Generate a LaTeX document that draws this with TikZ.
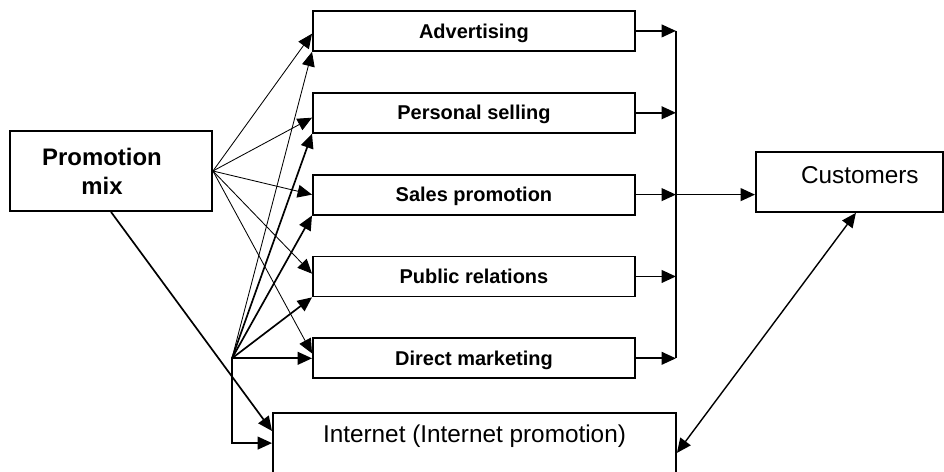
\documentclass[tikz,border=0pt]{standalone}
\usepackage{fontspec}
\setmainfont{Liberation Sans}
\usetikzlibrary{arrows.meta,positioning}

\begin{document}
\begin{tikzpicture}[
	x=0.025cm, y=-0.025cm,
	box/.style  = {draw, line width=1.3pt, rectangle, inner sep=0pt},
	tool/.style = {box, minimum width=8.05cm, minimum height=1cm, text height=10.2pt, text depth=0pt, font=\fontsize{14.2}{17}\selectfont\bfseries},
	big/.style  = {font=\fontsize{17.3}{20.5}\selectfont},
	feed/.style = {->, line width=0.6pt},
	link/.style = {->, line width=1.2pt},
	node distance=1cm,
	>={Triangle[length=3.6mm,width=3.2mm]}]

	\useasboundingbox (0,0) rectangle (944,472);
	\clip (0,0) rectangle (944,472);

	% Source box on the left
	\node[box, minimum width=5.05cm, minimum height=2cm,
	  label={[font=\fontsize{17}{20.5}\selectfont\bfseries, align=center, xshift=-6.4pt]center:Promotion\\mix}] (pm) at (111,171) {};

	% The five tools, one under the other
	\node[tool, anchor=north west] (adv) at (312,10) {Advertising};
	\node[tool, below=of adv] (ps) {Personal selling};
	\node[tool, below=of ps] (sp) {Sales promotion};
	\node[tool, below=of sp] (pr) {Public relations};
	\node[tool, below=of pr] (dm) {Direct marketing};

	% Right side and bottom boxes
	\node[box, minimum width=4.675cm, minimum height=1.5cm, anchor=north west,
	  label={[big, xshift=7.4pt, yshift=4.6pt]center:Customers}] (cust) at (755,151) {};
	\node[box, minimum width=10.075cm, minimum height=2cm, anchor=north west,
	  label={[big, yshift=11.7pt]center:Internet (Internet promotion)}] (inet) at (272,412) {};

	\coordinate[left=2cm of dm.west] (hub);
	\coordinate[right=1cm of adv.east] (bus);

	% Thin lines from the promotion mix to every tool
	\foreach \n/\dy in {adv/-2pt, ps/-3.5pt, sp/0pt, pr/2pt, dm/3.5pt}
	\draw[feed] (pm.east) -- ([yshift=\dy]\n.west);

	% Lines from the branch point
	\draw[feed] (hub) -- (adv.south west);
	\foreach \n in {ps,sp,pr}
	\draw[link] (hub) -- (\n.south west);
	\draw[link] (hub) -- (dm.west);
	\draw[link] (hub) |- ([yshift=7pt]inet.west);
	\draw[link] (pm.south) -- ([yshift=15.6pt]inet.west);

	% Collecting bus towards the customers
	\foreach \n in {adv,ps,sp,pr,dm}
	\draw[link] (\n.east) -- (\n.east -| bus);
	\draw[line width=1.2pt] (adv.east -| bus) -- (dm.east -| bus);
	\draw[link] (sp.east -| bus) -- (sp.east -| cust.west);
	\draw[<->, line width=1pt] ([xshift=4.6pt]cust.south) -- (inet.east);

\end{tikzpicture}
\end{document}
